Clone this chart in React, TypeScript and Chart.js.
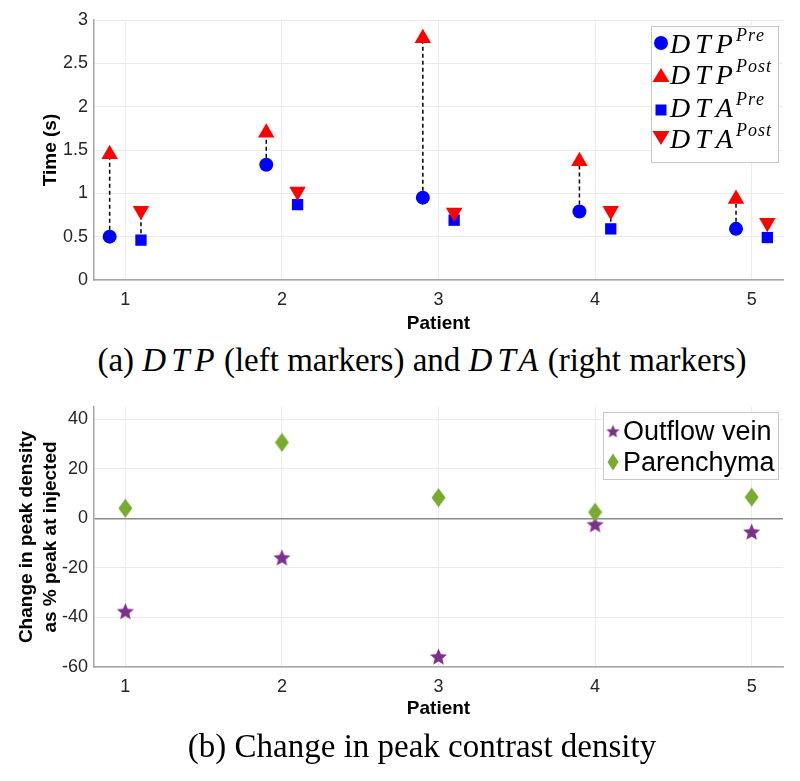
import React, { useEffect, useRef } from 'react';
import { Chart, registerables } from 'chart.js';

Chart.register(...registerables);

// ---------------- data ----------------
const patients = [1, 2, 3, 4, 5];
const dtpPre = [0.5, 1.33, 0.95, 0.79, 0.59];
const dtpPost = [1.45, 1.7, 2.79, 1.37, 0.935];
const dtaPre = [0.46, 0.87, 0.69, 0.59, 0.49];
const dtaPost = [0.8, 1.02, 0.78, 0.8, 0.66];
const timeTicks = [0, 0.5, 1, 1.5, 2, 2.5, 3];
const timeLimits = [0, 3];

const outflowVein = [-37.4, -15.7, -55.7, -2.3, -5.3];
const parenchyma = [4.1, 30.7, 8.4, 2.5, 8.6];
const changeTicks = [-60, -40, -20, 0, 20, 40];
const changeLimits = [-60, 45];

const patientLimits = [0.8, 5.2];
const markerShift = 0.1;

// ---------------- styles ----------------
const BLUE = '#0000ff';
const RED = '#ff0000';
const PURPLE = '#7E2F8E';
const GREEN = '#77AC30';
const SANS = '"Liberation Sans", Arial, Helvetica, sans-serif';
const SERIF = '"Liberation Serif", "Times New Roman", serif';
const GRID = '#ebebeb';
const AXIS = '#a6a6a6';

const images: Record<string, HTMLCanvasElement> = {};

function makeStar(size: number, color: string) {
  const c = document.createElement('canvas');
  c.width = size;
  c.height = size;
  const ctx = c.getContext('2d')!;
  const cx = size / 2;
  const cy = size / 2 + size * 0.05;
  const R = size / 2 - 0.5;
  const r = R * 0.45;
  ctx.beginPath();
  for (let i = 0; i < 10; i++) {
    const a = -Math.PI / 2 + (i * Math.PI) / 5;
    const rad = i % 2 === 0 ? R : r;
    ctx.lineTo(cx + rad * Math.cos(a), cy + rad * Math.sin(a));
  }
  ctx.closePath();
  ctx.fillStyle = color;
  ctx.fill();
  return c;
}

function makeDiamond(w: number, h: number, color: string) {
  const c = document.createElement('canvas');
  c.width = w;
  c.height = h;
  const ctx = c.getContext('2d')!;
  ctx.beginPath();
  ctx.moveTo(w / 2, 0.5);
  ctx.lineTo(w - 0.5, h / 2);
  ctx.lineTo(w / 2, h - 0.5);
  ctx.lineTo(0.5, h / 2);
  ctx.closePath();
  ctx.fillStyle = color;
  ctx.fill();
  return c;
}

function ensureImages() {
  if (images.star) return;
  images.star = makeStar(19, PURPLE);
  images.diamond = makeDiamond(15, 20, GREEN);
  images.starSmall = makeStar(15, PURPLE);
  images.diamondSmall = makeDiamond(12, 18, GREEN);
}

function drawMarker(ctx: CanvasRenderingContext2D, kind: string, x: number, y: number, color: string) {
  if (kind === 'star' || kind === 'diamond') {
    const img = kind === 'star' ? images.starSmall : images.diamondSmall;
    ctx.drawImage(img, x - img.width / 2, y - img.height / 2);
    return;
  }
  ctx.fillStyle = color;
  ctx.beginPath();
  if (kind === 'circle') {
    ctx.arc(x, y, 7, 0, Math.PI * 2);
  } else if (kind === 'triangle') {
    ctx.moveTo(x, y - 7);
    ctx.lineTo(x + 8.5, y + 7);
    ctx.lineTo(x - 8.5, y + 7);
    ctx.closePath();
  } else if (kind === 'triangleDown') {
    ctx.moveTo(x, y + 7);
    ctx.lineTo(x + 8.5, y - 7);
    ctx.lineTo(x - 8.5, y - 7);
    ctx.closePath();
  } else if (kind === 'rect') {
    ctx.rect(x - 5.5, y - 5.5, 11, 11);
  }
  ctx.fill();
}

function drawSpaced(ctx: CanvasRenderingContext2D, text: string, x: number, y: number, spacing: number) {
  let cx = x;
  for (const ch of text) {
    ctx.fillText(ch, cx, y);
    cx += ctx.measureText(ch).width + spacing;
  }
  return cx - spacing;
}

const legendPlugin = {
  id: 'customLegend',
  afterDraw(chart: any, _args: any, opts: any) {
    if (!opts || !opts.items) return;
    const { ctx, chartArea } = chart;
    const bx = Math.round(chartArea.right - opts.offsetRight - opts.width);
    const by = Math.round(chartArea.top + opts.offsetTop);
    ctx.save();
    ctx.fillStyle = '#ffffff';
    ctx.fillRect(bx, by, opts.width, opts.height);
    ctx.strokeStyle = '#c8c8c8';
    ctx.lineWidth = 1;
    ctx.strokeRect(bx + 0.5, by + 0.5, opts.width, opts.height);
    for (const it of opts.items) {
      drawMarker(ctx, it.marker, bx + opts.markerX, by + it.my, it.color);
      ctx.fillStyle = '#000';
      ctx.textBaseline = 'alphabetic';
      ctx.textAlign = 'left';
      ctx.font = opts.font;
      const endX = drawSpaced(ctx, it.text, bx + opts.textX, by + it.baseline, opts.spacing);
      if (it.sup) {
        ctx.font = opts.supFont;
        drawSpaced(ctx, it.sup, endX + 3, by + it.baseline - opts.supRaise, opts.supSpacing);
      }
    }
    ctx.restore();
  },
};

const tickFont = { family: SANS, size: 18 };
const titleFont = { family: SANS, size: 19, weight: 'bold' as const };
const fmt = (v: any) => `${v}`;

function xScale(titleBottomPad: number) {
  return {
    type: 'linear',
    min: patientLimits[0],
    max: patientLimits[1],
    afterBuildTicks: (s: any) => {
      s.ticks = patients.map((v) => ({ value: v }));
    },
    afterFit: (s: any) => {
      s.height = 60;
    },
    grid: { color: GRID, lineWidth: 1, drawTicks: false },
    border: { display: true, color: AXIS, width: 1.5 },
    ticks: { font: tickFont, color: '#262626', padding: 9, maxRotation: 0, autoSkip: false, callback: fmt },
    title: {
      display: true,
      text: 'Patient',
      font: titleFont,
      color: '#000',
      padding: { top: 0, bottom: titleBottomPad },
    },
  };
}

function TimeChart() {
  const ref = useRef<HTMLCanvasElement>(null);
  useEffect(() => {
    ensureImages();
    const connectors: any[] = [];
    patients.forEach((p, i) => {
      connectors.push({
        type: 'scatter',
        data: [
          { x: p - markerShift, y: dtpPre[i] },
          { x: p - markerShift, y: dtpPost[i] },
        ],
        showLine: true,
        borderColor: '#000',
        borderWidth: 1.5,
        borderDash: [4, 3],
        pointRadius: 0,
        order: 10,
      });
      connectors.push({
        type: 'scatter',
        data: [
          { x: p + markerShift, y: dtaPre[i] },
          { x: p + markerShift, y: dtaPost[i] },
        ],
        showLine: true,
        borderColor: '#000',
        borderWidth: 1.5,
        borderDash: [4, 3],
        pointRadius: 0,
        order: 10,
      });
    });
    const chart = new Chart(ref.current!, {
      type: 'scatter',
      data: {
        datasets: [
          ...connectors,
          {
            label: 'DTP Pre',
            data: patients.map((p, i) => ({ x: p - markerShift, y: dtpPre[i] })),
            pointStyle: 'circle',
            pointRadius: 7,
            backgroundColor: BLUE,
            borderColor: BLUE,
            borderWidth: 0,
            order: 4,
          },
          {
            label: 'DTP Post',
            data: patients.map((p, i) => ({ x: p - markerShift, y: dtpPost[i] })),
            pointStyle: 'triangle',
            pointRadius: 9.5,
            backgroundColor: RED,
            borderColor: RED,
            borderWidth: 0,
            order: 3,
          },
          {
            label: 'DTA Pre',
            data: patients.map((p, i) => ({ x: p + markerShift, y: dtaPre[i] })),
            pointStyle: 'rect',
            pointRadius: 8,
            backgroundColor: BLUE,
            borderColor: BLUE,
            borderWidth: 0,
            order: 2,
          },
          {
            label: 'DTA Post',
            data: patients.map((p, i) => ({ x: p + markerShift, y: dtaPost[i] })),
            pointStyle: 'triangle',
            rotation: 180,
            pointRadius: 9.5,
            backgroundColor: RED,
            borderColor: RED,
            borderWidth: 0,
            order: 1,
          },
        ],
      },
      options: {
        animation: false,
        responsive: false,
        events: [],
        layout: { padding: { top: 20, right: 17, left: 0, bottom: 0 } },
        scales: {
          x: xScale(5) as any,
          y: {
            type: 'linear',
            min: timeLimits[0],
            max: timeLimits[1],
            afterBuildTicks: (s: any) => {
              s.ticks = timeTicks.map((v) => ({ value: v }));
            },
            afterFit: (s: any) => {
              s.width = 94;
            },
            grid: { color: GRID, lineWidth: 1, drawTicks: false },
            border: { display: true, color: AXIS, width: 1.5 },
            ticks: { font: tickFont, color: '#262626', padding: 6, callback: fmt },
            title: {
              display: true,
              text: 'Time (s)',
              font: titleFont,
              color: '#000',
              padding: { top: 39.6, bottom: 0 },
            },
          },
        },
        plugins: {
          legend: { display: false },
          tooltip: { enabled: false },
          customLegend: {
            offsetRight: 5,
            offsetTop: 6,
            width: 127,
            height: 136,
            markerX: 10,
            textX: 19,
            font: `italic 28px ${SERIF}`,
            supFont: `italic 18px ${SERIF}`,
            spacing: 5,
            supSpacing: 1,
            supRaise: 12,
            items: [
              { marker: 'circle', color: BLUE, my: 17, baseline: 27, text: 'DTP', sup: 'Pre' },
              { marker: 'triangle', color: RED, my: 49, baseline: 58, text: 'DTP', sup: 'Post' },
              { marker: 'rect', color: BLUE, my: 84, baseline: 91, text: 'DTA', sup: 'Pre' },
              { marker: 'triangleDown', color: RED, my: 112, baseline: 122, text: 'DTA', sup: 'Post' },
            ],
          },
        } as any,
      },
      plugins: [legendPlugin],
    } as any);
    return () => chart.destroy();
  }, []);
  return <canvas ref={ref} width={800} height={340} style={{ display: 'block' }} />;
}

function ChangeChart() {
  const ref = useRef<HTMLCanvasElement>(null);
  useEffect(() => {
    ensureImages();
    const chart = new Chart(ref.current!, {
      type: 'scatter',
      data: {
        datasets: [
          {
            label: 'Outflow vein',
            data: patients.map((p, i) => ({ x: p, y: outflowVein[i] })),
            pointStyle: images.star,
            pointRadius: 8,
            backgroundColor: PURPLE,
            borderColor: PURPLE,
            order: 2,
          },
          {
            label: 'Parenchyma',
            data: patients.map((p, i) => ({ x: p, y: parenchyma[i] })),
            pointStyle: images.diamond,
            pointRadius: 8,
            backgroundColor: GREEN,
            borderColor: GREEN,
            order: 1,
          },
        ],
      },
      options: {
        animation: false,
        responsive: false,
        events: [],
        layout: { padding: { top: 27, right: 17, left: 0, bottom: 0 } },
        scales: {
          x: xScale(6.6) as any,
          y: {
            type: 'linear',
            min: changeLimits[0],
            max: changeLimits[1],
            afterBuildTicks: (s: any) => {
              s.ticks = changeTicks.map((v) => ({ value: v }));
            },
            afterFit: (s: any) => {
              s.width = 94;
            },
            grid: {
              color: (c: any) => (c.tick && c.tick.value === 0 ? '#8a8a8a' : GRID),
              lineWidth: (c: any) => (c.tick && c.tick.value === 0 ? 1.5 : 1),
              drawTicks: false,
            },
            border: { display: true, color: AXIS, width: 1.5 },
            ticks: { font: tickFont, color: '#262626', padding: 6, callback: fmt },
            title: {
              display: true,
              text: ['Change in peak density', 'as % peak at injected'],
              font: { ...titleFont, lineHeight: 1.26 },
              color: '#000',
              padding: { top: 15, bottom: 0 },
            },
          },
        },
        plugins: {
          legend: { display: false },
          tooltip: { enabled: false },
          customLegend: {
            offsetRight: 5,
            offsetTop: 5,
            width: 175,
            height: 67,
            markerX: 10,
            textX: 20,
            font: `27px ${SANS}`,
            supFont: `15px ${SANS}`,
            spacing: 0,
            supSpacing: 0,
            supRaise: 12,
            items: [
              { marker: 'star', color: PURPLE, my: 19, baseline: 28, text: 'Outflow vein' },
              { marker: 'diamond', color: GREEN, my: 50, baseline: 59, text: 'Parenchyma' },
            ],
          },
        } as any,
      },
      plugins: [legendPlugin],
    } as any);
    return () => chart.destroy();
  }, []);
  return <canvas ref={ref} width={800} height={347} style={{ display: 'block' }} />;
}

const captionStyle: React.CSSProperties = {
  position: 'absolute',
  left: 0,
  width: 844,
  textAlign: 'center',
  fontFamily: SERIF,
  fontSize: 33,
  lineHeight: '40px',
  color: '#000',
  whiteSpace: 'nowrap',
};

const mathStyle: React.CSSProperties = { fontStyle: 'italic', letterSpacing: '5px', marginRight: '-4px' };

export default function App() {
  return (
    <div style={{ position: 'absolute', left: 0, top: 0, width: 800, height: 781, background: '#fff' }}>
      <div style={{ position: 'absolute', left: 0, top: 0 }}>
        <TimeChart />
      </div>
      <div style={{ ...captionStyle, top: 340 }}>
        (a) <span style={mathStyle}>DTP</span> (left markers) and <span style={mathStyle}>DTA</span> (right markers)
      </div>
      <div style={{ position: 'absolute', left: 0, top: 380 }}>
        <ChangeChart />
      </div>
      <div style={{ ...captionStyle, top: 726 }}>(b) Change in peak contrast density</div>
    </div>
  );
}
